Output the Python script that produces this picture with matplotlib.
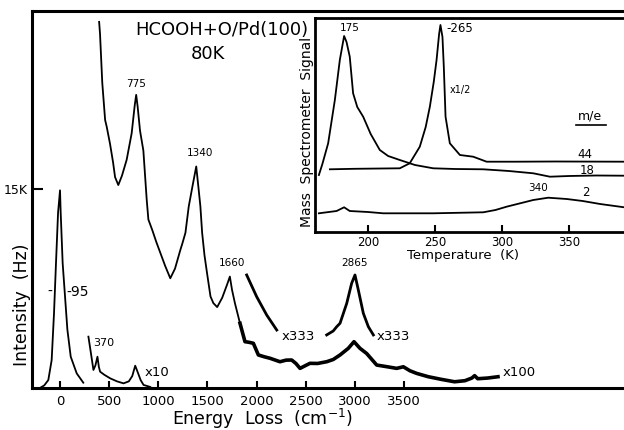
import matplotlib
matplotlib.use("Agg")
import matplotlib.pyplot as plt
from matplotlib.lines import Line2D

# ---------------- main EELS spectrum (energy loss in cm^-1, intensity in kHz) ----------------
elastic_x = [-205, -160, -119, -85, -61, -41, -20, 0, 7, 27, 51, 75, 109, 170, 237]
elastic_y = [0.0, 0.2, 0.6, 2.1, 5.65, 9.4, 13.2, 14.9, 13.2, 9.4, 6.9, 4.4, 2.36, 1.1, 0.4]

x10_x = [289, 315, 340, 360, 381, 395, 408, 450, 510, 580, 646, 700, 735, 765, 790, 820, 850, 918]
x10_y = [3.87, 2.6, 1.36, 1.7, 2.36, 1.6, 1.23, 1.0, 0.73, 0.5, 0.35, 0.5, 0.9, 1.68, 1.2, 0.6, 0.23, 0.08]

x100_x = [398, 407, 430, 459, 475, 509, 540, 560, 593, 630, 678, 729, 760, 775, 790, 814, 848,
          882, 899, 939, 980, 1020, 1070, 1122, 1170, 1224, 1245, 1276, 1310, 1350, 1386, 1410,
          1428, 1446, 1470, 1497, 1531, 1560, 1599, 1650, 1700, 1728, 1750, 1780, 1831, 1882,
          1920, 1967, 2018, 2080, 2137, 2238, 2300, 2357, 2400, 2442, 2500, 2543, 2620, 2713,
          2780, 2849, 2933, 2991, 3052, 3120, 3222, 3330, 3425, 3493, 3560, 3629, 3747, 3880,
          4014, 4120, 4190, 4218, 4250, 4350, 4456]
x100_y = [27.6, 26.7, 23.0, 20.2, 19.7, 18.4, 17.0, 15.9, 15.3, 16.0, 17.2, 19.2, 21.3, 22.1,
          21.2, 19.4, 17.9, 14.2, 12.7, 11.9, 11.0, 10.2, 9.2, 8.27, 9.0, 10.4, 10.9, 11.7, 13.7,
          15.3, 16.7, 15.0, 13.7, 11.7, 10.0, 8.6, 6.9, 6.4, 6.1, 6.8, 7.8, 8.4, 7.4, 6.38, 4.88,
          3.49, 3.45, 3.37, 2.49, 2.35, 2.24, 1.98, 2.1, 2.11, 1.85, 1.48, 1.7, 1.86, 1.85, 1.98,
          2.15, 2.49, 2.99, 3.49, 2.99, 2.6, 1.73, 1.6, 1.48, 1.6, 1.3, 1.1, 0.85, 0.65, 0.47,
          0.55, 0.75, 0.93, 0.7, 0.75, 0.85]

x333a_x = [1899, 2001, 2103, 2205]
x333a_y = [8.52, 6.88, 5.5, 4.37]

x333b_x = [2713, 2780, 2815, 2849, 2917, 2967, 3001, 3035, 3086, 3137, 3188]
x333b_y = [4.0, 4.3, 4.62, 4.88, 6.38, 7.89, 8.52, 7.39, 5.63, 4.62, 4.0]

main_xticks = [0, 500, 1000, 1500, 2000, 2500, 3000, 3500]
main_yticks = [15]
main_ytick_labels = ["15K"]

# ---------------- inset TPD (temperature K, signal arb.) ----------------
m18_T = [163.4, 166, 170.3, 175.3, 179, 182.2, 184, 186.4, 188.9, 192, 196.4, 202, 208.8, 215,
         223.7, 235, 248.6, 265, 285.9, 305, 323.2, 335.6, 350, 370, 391]
m18_s = [57, 68, 88.7, 132, 172, 196, 190, 175.3, 138.7, 125, 115.3, 98, 82, 76, 72, 67, 63.7,
         63, 62.7, 61, 58.7, 55.3, 56, 56.5, 56.3]

m44_T = [171.6, 190, 210, 223.7, 231.1, 238.6, 243, 246.1, 249, 251.1, 253, 254, 255.5, 256.5,
         257.8, 261, 268.5, 278.4, 288.4, 310, 340, 391]
m44_s = [62.7, 63.2, 63.5, 63.7, 68.7, 85.3, 105, 125.3, 150, 172, 198, 207, 195, 165.3, 115.3,
         88.7, 77, 75.3, 70.3, 70.3, 70.5, 70.3]

m2_T = [163.4, 176.6, 182.2, 186.4, 200, 211.3, 248.6, 285.9, 295, 303.3, 323.2, 334.3, 348.1,
        360, 373, 391]
m2_s = [18.7, 21, 24.7, 21, 20, 18.7, 18.7, 19.7, 22, 25.3, 32, 34.3, 33, 31, 28, 24.7]

inset_xticks = [200, 250, 300, 350]

# ---------------- figure ----------------
W, H = 624, 430
fig = plt.figure(figsize=(W / 100, H / 100), dpi=100)
fig.patch.set_facecolor("white")

ax = fig.add_axes([32 / W, (H - 388) / H, (W - 32) / W, 377 / H])
ax.set_xlim(-285, 5738)
ax.set_ylim(0, 28.42)

lc = "black"
ax.plot(elastic_x, elastic_y, color=lc, lw=1.3)
ax.plot(x10_x, x10_y, color=lc, lw=1.3)
ax.plot(x100_x, x100_y, color=lc, lw=1.3)
noisy = [(xv, yv) for xv, yv in zip(x100_x, x100_y) if xv >= 1831]
ax.plot([p[0] for p in noisy], [p[1] for p in noisy], color=lc, lw=2.6)
ax.plot(x333a_x, x333a_y, color=lc, lw=2.0)
ax.plot(x333b_x, x333b_y, color=lc, lw=2.0)

for s in ["left", "bottom", "top"]:
    ax.spines[s].set_linewidth(2.2)
    ax.spines[s].set_color("black")
ax.spines["right"].set_visible(False)

ax.set_xticks(main_xticks)
ax.set_xticklabels([str(t) for t in main_xticks])
ax.set_yticks(main_yticks)
ax.set_yticklabels(main_ytick_labels)
ax.tick_params(axis="x", direction="in", length=5, width=1.5, labelsize=9.5, pad=5)
ax.tick_params(axis="y", direction="in", length=8, width=1.5, labelsize=9, pad=3)
ax.tick_params(top=False, right=False)

ax.set_xlabel(r"Energy  Loss  (cm$^{-1}$)", fontsize=12.5)
ax.xaxis.set_label_coords((262 - 32) / 592, (388 - 425) / 377)
ax.xaxis.label.set_va("baseline")
ax.set_ylabel("Intensity  (Hz)", fontsize=12.5)
ax.yaxis.set_label_coords((22 - 32) / 592, (388 - 305) / 377)
ax.yaxis.label.set_va("center")

# annotations
ax.text(1645, 26.99, "HCOOH+O/Pd(100)", fontsize=13, ha="center", va="center")
ax.text(1506, 25.2, "80K", fontsize=13, ha="center", va="center")
ax.text(773, 22.9, "775", fontsize=7.5, ha="center", va="center")
ax.text(1424, 17.7, "1340", fontsize=7.5, ha="center", va="center")
ax.text(1747, 9.4, "1660", fontsize=7.5, ha="center", va="center")
ax.text(3001, 9.42, "2865", fontsize=7.5, ha="center", va="center")
ax.text(336, 3.39, "370", fontsize=8, ha="left", va="center")
ax.text(865, 1.2, "x10", fontsize=9.5, ha="left", va="center")
ax.text(2255, 3.92, "x333", fontsize=9.5, ha="left", va="center")
ax.text(3222, 3.92, "x333", fontsize=9.5, ha="left", va="center")
ax.text(4500, 1.2, "x100", fontsize=9.5, ha="left", va="center")
ax.text(-102, 7.26, "-", fontsize=10, ha="center", va="center")
ax.text(68, 7.26, "-95", fontsize=10, ha="left", va="center")

# ---------------- inset ----------------
ins = fig.add_axes([315 / W, (H - 232) / H, (W - 315) / W, 214 / H])
ins.set_facecolor("white")
ins.set_xlim(160.5, 390.8)
ins.set_ylim(0, 214)
ins.plot(m18_T, m18_s, color=lc, lw=1.3)
ins.plot(m44_T, m44_s, color=lc, lw=1.3)
ins.plot(m2_T, m2_s, color=lc, lw=1.3)
for s in ["left", "bottom", "top"]:
    ins.spines[s].set_linewidth(2.0)
    ins.spines[s].set_color("black")
ins.spines["right"].set_visible(False)
ins.set_xticks(inset_xticks)
ins.set_xticklabels([str(t) for t in inset_xticks])
ins.set_yticks([])
ins.tick_params(axis="x", direction="in", length=5, width=1.5, labelsize=8.5, pad=3)
ins.set_xlabel("Temperature  (K)", fontsize=9.5)
ins.xaxis.set_label_coords((463 - 315) / 309, (232 - 255) / 214)
ins.xaxis.label.set_va("center")
ins.set_ylabel("Mass  Spectrometer  Signal", fontsize=10)
ins.yaxis.set_label_coords((307 - 315) / 309, (232 - 132) / 214)
ins.yaxis.label.set_va("center")

ins.text(186.6, 204, "175", fontsize=7.5, ha="center", va="center")
ins.text(258.5, 204, "-265", fontsize=8.5, ha="left", va="center")
ins.text(261, 142, "x1/2", fontsize=7, ha="left", va="center")
ins.text(365.4, 116, "m/e", fontsize=9, ha="center", va="center")
fig.add_artist(Line2D([576 / W, 606 / W], [1 - 125 / H, 1 - 125 / H],
                      transform=fig.transFigure, color="black", lw=1.2))
ins.text(361.7, 77, "44", fontsize=8.5, ha="center", va="center")
ins.text(363, 62, "18", fontsize=8.5, ha="center", va="center")
ins.text(362.4, 40, "2", fontsize=8.5, ha="center", va="center")
ins.text(326.7, 44, "340", fontsize=7.5, ha="center", va="center")

fig.savefig("out.png", dpi=100, facecolor="white")
